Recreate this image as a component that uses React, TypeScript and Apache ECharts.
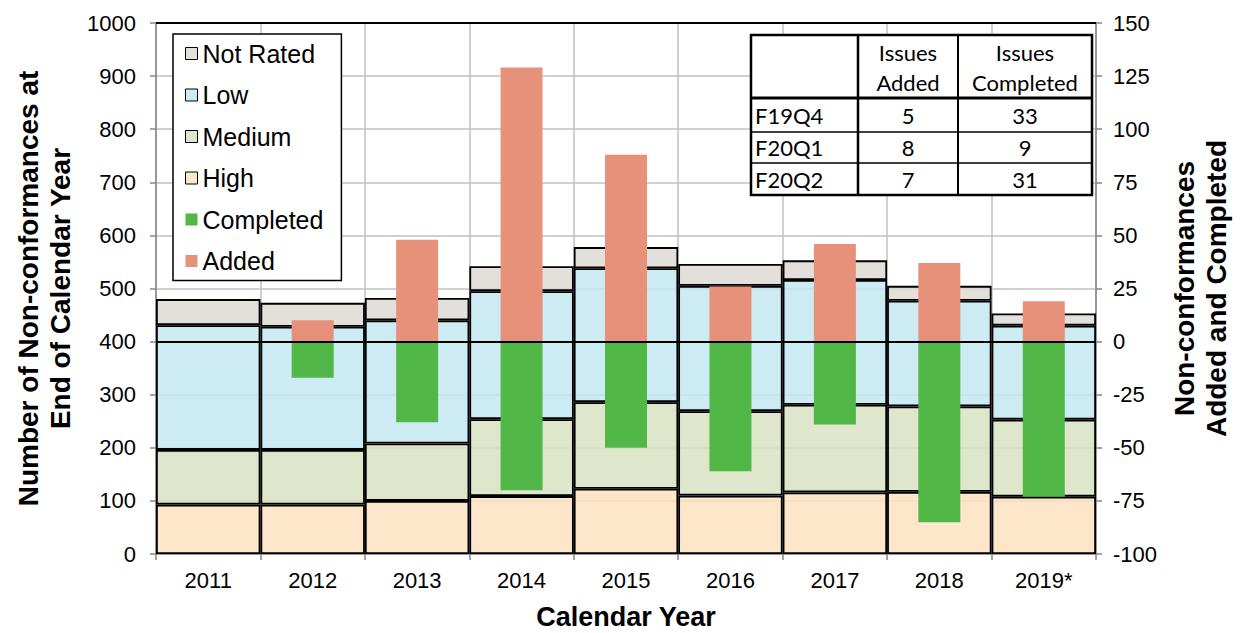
import { useEffect, useRef } from 'react';
import * as echarts from 'echarts';

const years = ['2011', '2012', '2013', '2014', '2015', '2016', '2017', '2018', '2019*'];
const high = [93, 93, 100, 109, 123, 110, 116, 117, 108];
const medium = [103, 103, 108, 145, 163, 159, 165, 161, 145];
const low = [235, 232, 232, 241, 252, 236, 235, 199, 177];
const notRated = [49, 45, 42, 47, 40, 41, 37, 28, 23];
const added = [null, 10, 48, 129, 88, 26, 46, 37, 19];
const completed = [null, -17, -38, -70, -50, -61, -39, -85, -73];

const tableRows = ['F19Q4', 'F20Q1', 'F20Q2'];
const issuesAdded = [5, 8, 7];
const issuesCompleted = [33, 9, 31];

const FONT = 'Arial, "Liberation Sans", sans-serif';
const TFONT = 'Lato, "Open Sans", sans-serif';
const GRID_GRAY = '#C0C0C0';
const AXIS_GRAY = '#868686';

function buildTable() {
  const x0 = 751, x1 = 858, x2 = 958, x3 = 1092;
  const y0 = 35, yh = 98;
  const rowLines = [98, 132, 163, 195];
  const els: any[] = [];
  els.push({ type: 'rect', z: 100, shape: { x: x0, y: y0, width: x3 - x0, height: rowLines[3] - y0 }, style: { fill: '#fff', stroke: '#000', lineWidth: 2.5 } });
  els.push({ type: 'line', z: 101, shape: { x1: x1, y1: y0, x2: x1, y2: rowLines[3] }, style: { stroke: '#000', lineWidth: 2.5 } });
  els.push({ type: 'line', z: 101, shape: { x1: x2, y1: y0, x2: x2, y2: rowLines[3] }, style: { stroke: '#000', lineWidth: 2 } });
  els.push({ type: 'line', z: 101, shape: { x1: x0, y1: yh, x2: x3, y2: yh }, style: { stroke: '#000', lineWidth: 3 } });
  els.push({ type: 'line', z: 101, shape: { x1: x0, y1: rowLines[1], x2: x3, y2: rowLines[1] }, style: { stroke: '#000', lineWidth: 1.5 } });
  els.push({ type: 'line', z: 101, shape: { x1: x0, y1: rowLines[2], x2: x3, y2: rowLines[2] }, style: { stroke: '#000', lineWidth: 1.5 } });
  const txt = (text: string, x: number, y: number, align: string) => ({
    type: 'text', z: 102, x, y,
    style: { text, fill: '#000', fontSize: 22, fontFamily: TFONT, align, verticalAlign: 'middle' },
  });
  const c2 = (x1 + x2) / 2, c3 = (x2 + x3) / 2;
  els.push(txt('Issues', c2, 52, 'center'));
  els.push(txt('Added', c2, 82, 'center'));
  els.push(txt('Issues', c3, 52, 'center'));
  els.push(txt('Completed', c3, 82, 'center'));
  tableRows.forEach((r, i) => {
    const yc = (rowLines[i] + rowLines[i + 1]) / 2;
    els.push(txt(r, x0 + 4, yc, 'left'));
    els.push(txt(String(issuesAdded[i]), c2, yc, 'center'));
    els.push(txt(String(issuesCompleted[i]), c3, yc, 'center'));
  });
  return els;
}

export default function App() {
  const ref = useRef<HTMLDivElement>(null);
  useEffect(() => {
    if (!ref.current) return;
    const chart = echarts.init(ref.current, null, { renderer: 'svg' });
    const stackStyle = (c: string) => ({ color: c, borderColor: '#000', borderWidth: 1.8 });
    const lineAt = (v: number) => ({
      silent: true, symbol: ['none', 'none'], label: { show: false },
      lineStyle: { color: '#000', width: 2, type: 'solid' },
      data: [{ yAxis: v }],
    });
    const option: any = {
      animation: false,
      backgroundColor: '#fff',
      textStyle: { fontFamily: FONT, color: '#000' },
      grid: { left: 156, right: 144, top: 23, bottom: 79, containLabel: false, outerBoundsMode: 'none' },
      legend: {
        orient: 'vertical', left: 173, top: 34,
        padding: [7, 18, 7, 12], itemGap: 16.5, itemWidth: 12, itemHeight: 12, itemTextGap: 7,
        backgroundColor: '#fff', borderColor: '#000', borderWidth: 1.5,
        icon: 'rect',
        textStyle: { fontSize: 25, color: '#000', fontFamily: FONT, lineHeight: 24 },
        data: [
          { name: 'Not Rated', itemStyle: { color: '#E3E0DC', borderColor: '#000', borderWidth: 1 } },
          { name: 'Low', itemStyle: { color: '#CCEBF2', borderColor: '#000', borderWidth: 1 } },
          { name: 'Medium', itemStyle: { color: '#DEE6CC', borderColor: '#000', borderWidth: 1 } },
          { name: 'High', itemStyle: { color: '#FDE6CA', borderColor: '#000', borderWidth: 1 } },
          { name: 'Completed', itemStyle: { color: '#51B848', borderWidth: 0 } },
          { name: 'Added', itemStyle: { color: '#E8917A', borderWidth: 0 } },
        ],
      },
      xAxis: [
        {
          type: 'category', data: years, position: 'bottom',
          axisLine: { show: true, onZero: false, lineStyle: { color: AXIS_GRAY, width: 1.5 } },
          axisTick: { show: true, interval: 0, length: 6, lineStyle: { color: AXIS_GRAY, width: 1.5 } },
          axisLabel: { fontSize: 22, color: '#000', margin: 15, fontFamily: FONT },
          splitLine: { show: true, interval: 0, lineStyle: { color: GRID_GRAY, width: 1.5 } },
          name: 'Calendar Year', nameLocation: 'middle', nameGap: 49,
          nameTextStyle: { fontSize: 27, fontWeight: 'bold', color: '#000', fontFamily: FONT, lineHeight: 28 },
        },
        { type: 'category', data: years, show: false },
      ],
      yAxis: [
        {
          type: 'value', min: 0, max: 1000, interval: 100, position: 'left',
          name: 'Number of Non-conformances at\nEnd of Calendar Year',
          nameLocation: 'middle', nameRotate: 90, nameGap: 80,
          nameTextStyle: { fontSize: 28, fontWeight: 'bold', lineHeight: 32, color: '#000', fontFamily: FONT },
          axisLine: { show: true, lineStyle: { color: AXIS_GRAY, width: 1.5 } },
          axisTick: { show: true, length: 6, lineStyle: { color: AXIS_GRAY, width: 1.5 } },
          axisLabel: { fontSize: 22, color: '#000', margin: 20, fontFamily: FONT, formatter: (v: number) => String(v) },
          splitLine: { show: true, lineStyle: { color: GRID_GRAY, width: 1.5 } },
        },
        {
          type: 'value', min: -100, max: 150, interval: 25, position: 'right',
          name: 'Non-conformances\nAdded and Completed',
          nameLocation: 'middle', nameRotate: 90, nameGap: 72,
          nameTextStyle: { fontSize: 28, fontWeight: 'bold', lineHeight: 32, color: '#000', fontFamily: FONT },
          axisLine: { show: true, lineStyle: { color: AXIS_GRAY, width: 1.5 } },
          axisTick: { show: true, length: 6, lineStyle: { color: AXIS_GRAY, width: 1.5 } },
          axisLabel: { fontSize: 22, color: '#000', margin: 17, fontFamily: FONT, formatter: (v: number) => String(v) },
          splitLine: { show: false },
        },
      ],
      series: [
        { name: 'High', type: 'bar', stack: 'lvl', barCategoryGap: '0%', data: high, itemStyle: stackStyle('rgba(253,226,193,0.85)'), markLine: lineAt(1000) },
        { name: 'Medium', type: 'bar', stack: 'lvl', barCategoryGap: '0%', data: medium, itemStyle: stackStyle('rgba(216,226,195,0.85)') },
        { name: 'Low', type: 'bar', stack: 'lvl', barCategoryGap: '0%', data: low, itemStyle: stackStyle('rgba(195,231,240,0.85)') },
        { name: 'Not Rated', type: 'bar', stack: 'lvl', barCategoryGap: '0%', data: notRated, itemStyle: stackStyle('rgba(222,219,214,0.85)') },
        { name: 'Added', type: 'bar', xAxisIndex: 1, yAxisIndex: 1, stack: 'chg', barWidth: 42, data: added, itemStyle: { color: '#E8917A' } },
        { name: 'Completed', type: 'bar', xAxisIndex: 1, yAxisIndex: 1, stack: 'chg', barWidth: 42, data: completed, itemStyle: { color: '#51B848' }, markLine: lineAt(0) },
      ],
      graphic: buildTable(),
    };
    chart.setOption(option);
    return () => chart.dispose();
  }, []);
  return <div ref={ref} style={{ position: 'fixed', left: 0, top: 0, width: 1240, height: 633 }} />;
}
